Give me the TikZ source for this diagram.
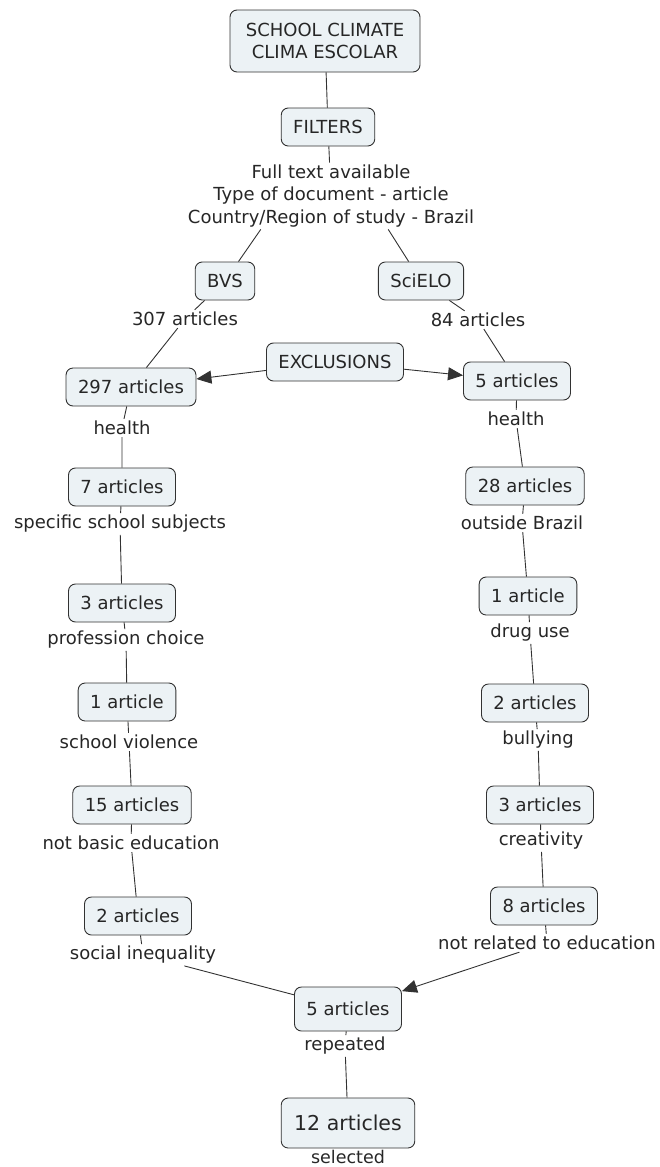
\documentclass[tikz,border=0pt]{standalone}
\usepackage{fontspec}
\setmainfont{DejaVu Sans}
\usetikzlibrary{arrows.meta}
\definecolor{boxfill}{RGB}{236,242,245}
\definecolor{linecol}{RGB}{50,50,50}
\begin{document}
\begin{tikzpicture}[x=1pt,y=-1pt,
  concept/.style={draw=linecol, line width=0.9pt, fill=boxfill, rounded corners=7pt,
    inner xsep=12pt, minimum height=38pt, align=center, font=\fontsize{18}{22}\selectfont, text=black!85},
  lab/.style={inner sep=2pt, align=center, font=\fontsize{18}{22.5}\selectfont, text=black!85},
  conn/.style={draw=linecol, line width=0.9pt},
  arr/.style={conn, -{Triangle[length=15pt,width=13pt]}}]
\useasboundingbox (0,0) rectangle (659,1167);
% top
\node[concept, minimum height=62pt, minimum width=190pt] (climate) at (325,41) {SCHOOL CLIMATE\\CLIMA ESCOLAR};
\node[concept] (filters) at (328,127) {FILTERS};
\node[lab] (flabel) at (331,196) {Full text available\\Type of document - article\\Country/Region of study - Brazil};
\node[concept] (bvs) at (225,281) {BVS};
\node[concept] (scielo) at (421,281) {SciELO};
\node[lab] (l307) at (185,319) {307 articles};
\node[lab] (l84) at (478,320) {84 articles};
\node[concept] (excl) at (335,362) {EXCLUSIONS};
% left column
\node[concept] (a297) at (131,387) {297 articles};
\node[lab] (lhealth) at (122,428) {health};
\node[concept] (a7) at (122,487) {7 articles};
\node[lab] (lspec) at (120,524) {specific school subjects};
\node[concept] (a3) at (122,603) {3 articles};
\node[lab] (lprof) at (126,640) {profession choice};
\node[concept] (a1) at (127,702) {1 article};
\node[lab] (lviol) at (129,742) {school violence};
\node[concept] (a15) at (132,805) {15 articles};
\node[lab] (lbasic) at (131,843) {not basic education};
\node[concept] (a2) at (138,916) {2 articles};
\node[lab] (lineq) at (143,955) {social inequality};
% right column
\node[concept] (r5) at (517,381) {5 articles};
\node[lab] (rhealth) at (516,419) {health};
\node[concept] (r28) at (525,486) {28 articles};
\node[lab] (routside) at (522,523) {outside Brazil};
\node[concept] (r1) at (528,596) {1 article};
\node[lab] (rdrug) at (530,633) {drug use};
\node[concept] (r2) at (535,703) {2 articles};
\node[lab] (rbully) at (538,740) {bullying};
\node[concept] (r3) at (540,805) {3 articles};
\node[lab] (rcreat) at (541,841) {creativity};
\node[concept] (r8) at (544,906) {8 articles};
\node[lab] (rnotrel) at (547,943) {not related to education};
% bottom
\node[concept, minimum height=44pt] (b5) at (348,1009) {5 articles};
\node[lab] (lrep) at (345,1046) {repeated};
\node[concept, minimum height=50pt, inner xsep=13pt, font=\fontsize{20.5}{24}\selectfont] (b12) at (348,1123) {12 articles};
\node[lab, inner sep=0pt, font=\fontsize{17.5}{20}\selectfont] (lsel) at (348,1157) {selected};
% connectors
\draw[conn] (climate) -- (filters);
\draw[conn] (filters) -- (flabel);
\draw[conn] ([xshift=75pt]flabel.south west) -- (bvs);
\draw[conn] ([xshift=-88pt]flabel.south east) -- (scielo);
\draw[conn] (bvs) -- (l307) -- (a297);
\draw[conn] (scielo) -- (l84) -- (r5);
\draw[arr] (excl) -- (a297);
\draw[arr] (excl) -- (r5);
\draw[conn] (a297) -- (lhealth) -- (a7) -- (lspec) -- (a3) -- (lprof) -- (a1) -- (lviol) -- (a15) -- (lbasic) -- (a2) -- (lineq) -- (b5);
\draw[conn] (r5) -- (rhealth) -- (r28) -- (routside) -- (r1) -- (rdrug) -- (r2) -- (rbully) -- (r3) -- (rcreat) -- (r8) -- (rnotrel);
\draw[arr] (rnotrel) -- (b5);
\draw[conn] (b5) -- (lrep) -- (b12);
\end{tikzpicture}
\end{document}
